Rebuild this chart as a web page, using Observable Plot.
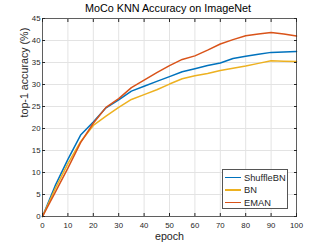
<!DOCTYPE html>
<html>
<head>
<meta charset="utf-8">
<script src="https://cdn.jsdelivr.net/npm/d3@7"></script>
<script src="https://cdn.jsdelivr.net/npm/@observablehq/plot@0.6"></script>
<style>
  html, body { margin: 0; padding: 0; background: #fff; }
  body { width: 327px; height: 245px; overflow: hidden; font-family: "Liberation Sans", Arial, sans-serif; position: relative; }
  #title { position: absolute; left: 0; top: 0; width: 336px; height: 17px; line-height: 17px; text-align: center; font-size: 10.8px; color: #000; z-index: 2; }
  #chart { position: absolute; left: 0; top: 0; }
  #legend { position: absolute; left: 222px; top: 169px; width: 66px; height: 40px; border: 1px solid #555; background: #fff; box-sizing: border-box; font-size: 9.3px; color: #262626; z-index: 2; }
  .row { position: absolute; left: 2px; height: 12px; line-height: 12px; display: flex; align-items: center; }
  .sw { display: inline-block; width: 16px; height: 1.6px; margin-right: 3px; }
</style>
</head>
<body>
<div id="title">MoCo KNN Accuracy on ImageNet</div>
<div id="chart"></div>
<div id="legend"></div>
<script>
const epochs = [0, 5, 10, 15, 20, 25, 30, 35, 40, 45, 50, 55, 60, 65, 70, 75, 80, 85, 90, 95, 100];
const shuffleBN = [0, 7.0, 13.0, 18.5, 21.5, 24.7, 26.5, 28.5, 29.6, 30.7, 31.8, 32.9, 33.6, 34.3, 34.9, 35.9, 36.4, 36.9, 37.3, 37.4, 37.5];
const bn        = [0, 6.3, 12.0, 17.0, 20.7, 22.8, 24.8, 26.6, 27.7, 28.8, 30.1, 31.3, 32.0, 32.5, 33.2, 33.7, 34.2, 34.8, 35.4, 35.3, 35.2];
const eman      = [0, 5.5, 11.0, 16.8, 21.2, 24.8, 26.8, 29.3, 31.0, 32.7, 34.3, 35.7, 36.5, 37.8, 39.2, 40.2, 41.1, 41.5, 41.8, 41.5, 41.0];
const seriesNames = ["ShuffleBN", "BN", "EMAN"];
const seriesColors = ["#0072BD", "#EDB120", "#D95319"];
const xTicks = [0, 10, 20, 30, 40, 50, 60, 70, 80, 90, 100];
const yTicks = [0, 5, 10, 15, 20, 25, 30, 35, 40, 45];

const allSeries = [shuffleBN, bn, eman];
const rows = [];
allSeries.forEach((vals, si) => vals.forEach((v, i) => rows.push({epoch: epochs[i], acc: v, series: seriesNames[si]})));

const axisColor = "#262626";
const chart = Plot.plot({
  width: 327,
  height: 245,
  marginLeft: 42,
  marginRight: 31,
  marginTop: 18,
  marginBottom: 29,
  style: {fontFamily: "Liberation Sans, Arial, sans-serif", fontSize: "7.8px", color: axisColor, background: "#fff"},
  x: {domain: [0, 100], ticks: xTicks},
  y: {domain: [0, 45], ticks: yTicks},
  color: {domain: seriesNames, range: seriesColors},
  marks: [
    Plot.gridX(xTicks, {stroke: "#e3e3e3", strokeOpacity: 1}),
    Plot.gridY(yTicks, {stroke: "#e3e3e3", strokeOpacity: 1}),
    Plot.line(rows, {x: "epoch", y: "acc", z: "series", stroke: "series", strokeWidth: 1.5}),
    Plot.frame({stroke: axisColor, strokeOpacity: 0.7}),
    Plot.axisX(xTicks, {anchor: "bottom", tickSize: 0, tickPadding: 6, label: null}),
    Plot.axisX(xTicks, {anchor: "bottom", tickSize: -3, tickFormat: () => "", stroke: axisColor, label: null}),
    Plot.axisX(xTicks, {anchor: "top", tickSize: -3, tickFormat: () => "", stroke: axisColor, label: null}),
    Plot.axisY(yTicks, {anchor: "left", tickSize: 0, tickPadding: 2, label: null}),
    Plot.axisY(yTicks, {anchor: "left", tickSize: -3, tickFormat: () => "", stroke: axisColor, label: null}),
    Plot.axisY(yTicks, {anchor: "right", tickSize: -3, tickFormat: () => "", stroke: axisColor, label: null}),
    Plot.text(["epoch"], {frameAnchor: "bottom", dy: 23, fontSize: 10.7, fill: axisColor}),
    Plot.text(["top-1 accuracy (%)"], {frameAnchor: "left", dx: -18, rotate: -90, fontSize: 10.7, fill: axisColor})
  ]
});
document.getElementById("chart").appendChild(chart);

const legend = document.getElementById("legend");
seriesNames.forEach((name, i) => {
  const r = document.createElement("div");
  r.className = "row";
  r.style.top = (1.5 + i * 12.5) + "px";
  const sw = document.createElement("span");
  sw.className = "sw";
  sw.style.background = seriesColors[i];
  const t = document.createElement("span");
  t.textContent = name;
  r.appendChild(sw); r.appendChild(t);
  legend.appendChild(r);
});
</script>
</body>
</html>
